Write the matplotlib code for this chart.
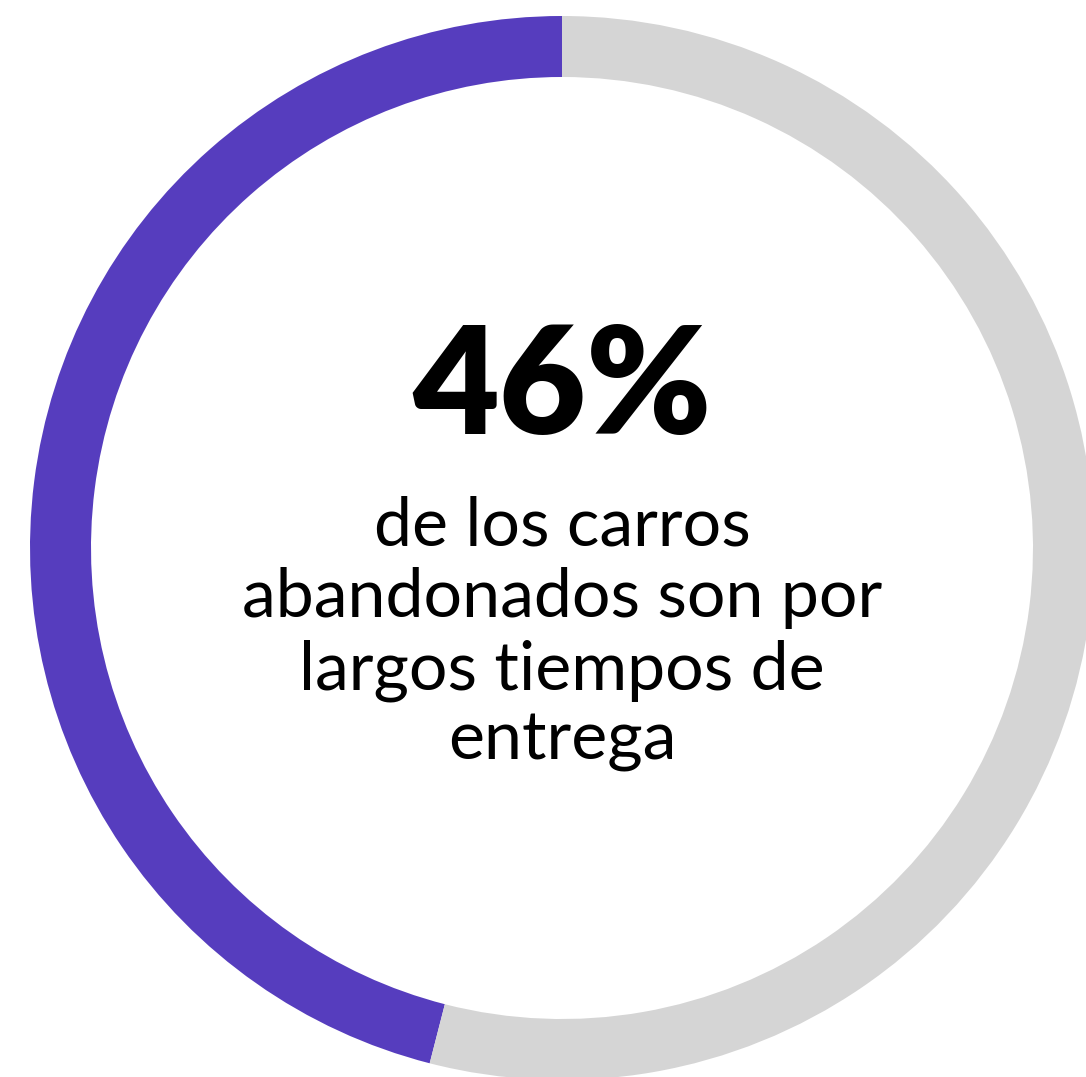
import matplotlib
matplotlib.use("Agg")
import matplotlib.pyplot as plt

# share of abandoned carts caused by long delivery times
labels = ["Tiempos de entrega largos", "Otros motivos"]
values = [46, 54]
colors = ["#563DBE", "#D5D5D5"]

headline = "46%"
caption_lines = ["de los carros", "abandonados son por", "largos tiempos de", "entrega"]

W, H = 1086, 1077
fig = plt.figure(figsize=(W / 100, H / 100), dpi=100)
ax = fig.add_axes([0, 0, 1, 1])

cx, cy = 562, H - 548
radius = 532
ring = 61

ax.pie(values, colors=colors, startangle=90, counterclock=True,
       center=(cx, cy), radius=radius, frame=True,
       wedgeprops=dict(width=ring, linewidth=0))
ax.set_xlim(0, W)
ax.set_ylim(0, H)
ax.set_aspect("equal")
ax.axis("off")

ax.text(cx, H - 434, headline, ha="center", va="baseline",
        fontsize=108, fontweight="heavy", family="Lato", color="black")

baselines = [545, 617, 690, 760]
for line, b in zip(caption_lines, baselines):
    ax.text(cx, H - b, line, ha="center", va="baseline",
            fontsize=49, fontweight="normal", family="Lato", color="black")

fig.savefig("out.png", dpi=100, facecolor="white")
